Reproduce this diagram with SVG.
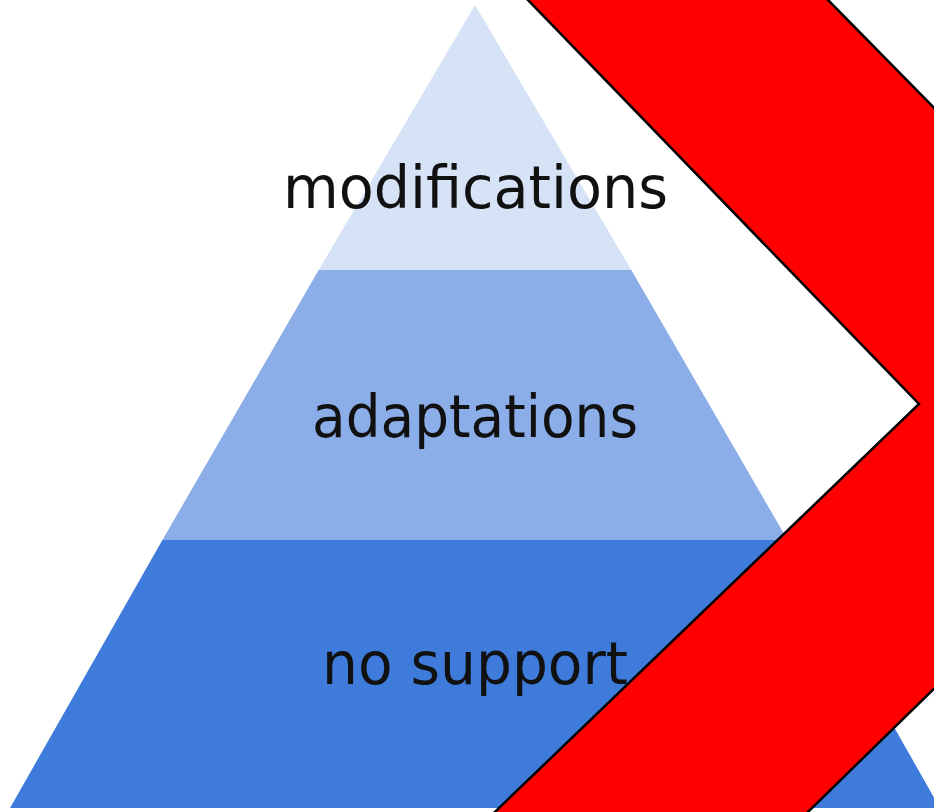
<svg xmlns="http://www.w3.org/2000/svg" width="934" height="812" viewBox="0 0 934 812">
  <style>
    .label { font-family: "DejaVu Sans", "Liberation Sans", sans-serif; font-size: 58px; fill: #111111; text-anchor: middle; }
    .arrow { fill: #ff0000; stroke: #000000; stroke-width: 2.5; stroke-linejoin: miter; }
  </style>
  <rect width="934" height="812" fill="#ffffff"/>
  <g id="tier-top">
    <polygon points="475,5 631.3,270 318.7,270" fill="#d6e3f6"/>
    <text class="label" x="475.5" y="208" textLength="385" lengthAdjust="spacingAndGlyphs">modifications</text>
  </g>
  <g id="tier-middle">
    <polygon points="318.7,270 631.3,270 787.6,540 162.4,540" fill="#8badE8"/>
    <text class="label" x="475" y="437" textLength="326" lengthAdjust="spacingAndGlyphs">adaptations</text>
  </g>
  <g id="tier-bottom">
    <polygon points="162.4,540 787.6,540 940,808 10,808" fill="#3f7bdb"/>
    <text class="label" x="475" y="684" textLength="306" lengthAdjust="spacingAndGlyphs">no support</text>
  </g>
  <g id="connectors">
    <polygon class="arrow" points="508.6,-20 808.4,-20 1225,404 787.5,832 474,832 919,404"/>
  </g>
</svg>
